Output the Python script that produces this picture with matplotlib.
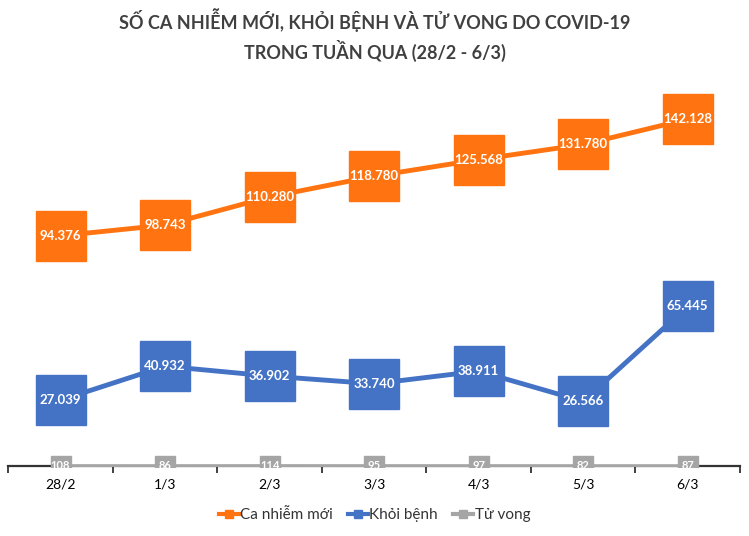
import matplotlib.pyplot as plt
from matplotlib.lines import Line2D
import numpy as np

plt.rcParams['font.family'] = ['Lato', 'DejaVu Sans']

# -----------------------------------------------------------
# data
# -----------------------------------------------------------
days = ['28/2', '1/3', '2/3', '3/3', '4/3', '5/3', '6/3']
ca_nhiem = [94376, 98743, 110280, 118780, 125568, 131780, 142128]
khoi_benh = [27039, 40932, 36902, 33740, 38911, 26566, 65445]
tu_vong = [108, 86, 114, 95, 97, 82, 87]

def fmt(v):
    return f'{v:,}'.replace(',', '.')

# -----------------------------------------------------------
# figure
# -----------------------------------------------------------
fig = plt.figure(figsize=(7.49, 5.36), dpi=100)
ax = fig.add_axes([0.011, 0.129, 0.977, 0.73])

x = np.arange(len(days))
orange = '#FF7410'
blue = '#4472C4'
gray = '#A5A5A5'

series = [
    (ca_nhiem, orange, 'Ca nhiễm mới', 3.5, 36, 9.5, 'Lato'),
    (khoi_benh, blue, 'Khỏi bệnh', 3.5, 36, 9.5, 'Lato'),
    (tu_vong, gray, 'Tử vong', 2.4, 14.5, 8, 'Liberation Sans Narrow'),
]
handles = []
for vals, col, lab, lw, ms, fs, fam in series:
    ax.plot(x, vals, color=col, lw=lw, marker='s', ms=ms,
            mec=col, mfc=col, zorder=3)
    for xi, v in zip(x, vals):
        ax.text(xi, v, fmt(v), ha='center', va='center', color='white',
                fontsize=fs, fontweight='bold', zorder=4,
                family=[fam, 'Lato', 'DejaVu Sans'])
    handles.append(Line2D([], [], color=col, lw=3, marker='s', ms=6,
                          mec=col, mfc=col, label=lab))

ax.set_xlim(-0.5, len(days) - 0.5)
ax.set_ylim(-300, 160000)
ax.set_yticks([])
ax.set_xticks(x)
ax.set_xticklabels(days, fontsize=11.5, color='#333333')
ax.set_xticks(np.arange(-0.5, len(days)), minor=True)
ax.tick_params(axis='x', which='major', length=0, pad=9)
ax.tick_params(axis='x', which='minor', length=5, width=1.3, color='#333333')
for s in ['top', 'right', 'left']:
    ax.spines[s].set_visible(False)
ax.spines['bottom'].set_linewidth(1.6)
ax.spines['bottom'].set_color('#333333')
ax.spines['bottom'].set_position(('data', 0))

fig.suptitle('SỐ CA NHIỄM MỚI, KHỎI BỆNH VÀ TỬ VONG DO COVID-19\n'
             'TRONG TUẦN QUA (28/2 - 6/3)',
             y=0.985, fontsize=13, fontweight='bold', color='#404040',
             linespacing=1.45)

leg = fig.legend(handles=handles, loc='lower center', ncol=3,
                 bbox_to_anchor=(0.5, 0.0), frameon=False, fontsize=11,
                 handlelength=1.3, handletextpad=0.1, columnspacing=1.0)
for t in leg.get_texts():
    t.set_color('#333333')

fig.savefig('out.png', dpi=100)
